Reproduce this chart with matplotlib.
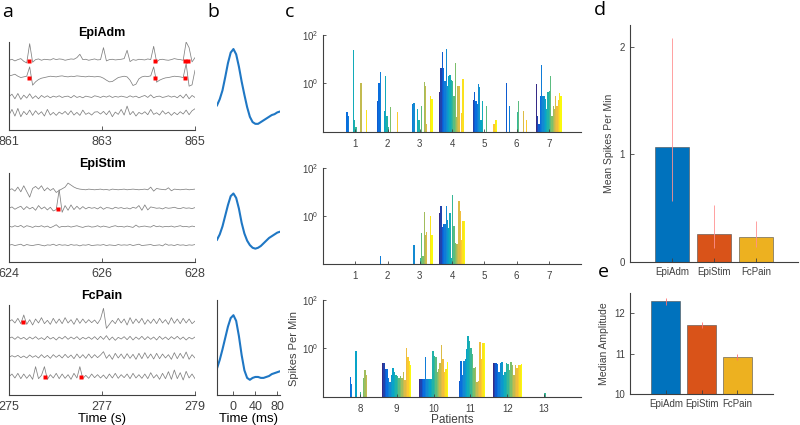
#!/usr/bin/env python
# -*- coding: utf-8 -*-

import numpy as np
import matplotlib
matplotlib.use('Agg')
import matplotlib.pyplot as plt
from matplotlib.colors import LinearSegmentedColormap

plt.rcParams['font.family'] = ['Liberation Sans', 'DejaVu Sans']

#------------------------------------------------------
# panel a: example traces (4 channels per condition, 64 samples over 4 s)
conditions = ['EpiAdm', 'EpiStim', 'FcPain']
trace_start = [861, 624, 275]
trace_base = [[210, 160, 100, 50], [215, 160, 105, 50], [220, 170, 115, 55]]

adm_traces = [
    [0, 3, -2, 2, 5, -3, -8, 50, -6, 2, 4, 0, 3, 2, 1, 5, 2, 4, 3, 0,
     2, 4, 3, 8, 18, 2, 3, 0, 2, 4, 1, 2, 38, -2, 2, 3, 1, 2, 3, 5,
     30, -4, 2, 0, 3, 2, 1, 4, 2, 42, -5, 2, 3, 1, 0, 2, 5, 3, 2, 0,
     55, 38, -5, 8],
    [3, 5, 8, 2, -2, 0, 2, 30, -25, -15, -8, -4, -2, 0, 2, 1, 0, 2, 3, 1,
     0, 2, 1, 3, 2, 1, 0, 2, 1, 0, 1, 0, -4, -10, -15, -14, -8, -2, 0, 2,
     0, -10, -26, -22, -6, 0, 2, 1, 3, 30, -16, -10, -6, -3, -2, 0, 2, 1, 0, -2,
     40, -28, -24, 20],
    [0, 8, -6, 10, -8, 5, -4, 9, -5, 3, -6, 4, -2, 3, -3, 2, -1, 3, -2, 1,
     2, -3, 4, -2, 1, -3, 2, 0, -2, 3, 1, -2, 2, -1, 3, -2, 1, -1, 2, 0,
     -2, 3, -1, 2, -3, 1, 4, -2, 6, -3, 1, 2, -2, 0, 3, -1, 2, -3, 5, -4,
     8, -6, 4, -2],
    [-5, 12, -8, 15, -10, 6, -4, 10, -6, 8, -3, 5, -8, 12, -5, 3, -6, 4, -2, 6,
     -4, 8, -5, 3, -6, 10, -3, 2, -5, 4, 5, -2, 6, -4, 8, -10, 4, -3, 12, -5,
     22, -4, 6, -8, 3, -2, 5, -4, 12, -3, 2, -5, 8, -2, 4, -6, 3, -4, 5, -2,
     10, -4, 8, 14],
]
stim_traces = [
    [0, 3, -4, 8, -6, 12, -5, -22, 4, 10, 2, 12, -3, 6, -2, 4, -8, -2, 3, 8,
     20, 14, 8, 4, 2, 1, 0, 2, 1, 0, 1, 2, 0, 1, -1, 2, 1, 0, 1, 2,
     0, 1, 2, 1, 0, 1, 2, 0, 8, -4, 4, 2, 1, 0, 6, -3, 2, 1, 0, 1,
     2, 0, 1, 2],
    [0, 4, -3, 2, 6, -4, 5, -2, 3, -6, 8, -2, 4, -5, 3, -8, -4, 55, -12, 8,
     -6, 10, -4, 6, -3, 5, -2, 3, 0, 2, -2, 4, -3, 2, 1, -2, 3, 0, 2, -1,
     1, -2, 3, 0, 8, -6, 10, -5, 4, 2, 0, 1, -2, 2, 0, 1, 3, 0, -1, 2,
     0, 1, -1, 2],
    [2, -1, 3, 0, 4, -2, 3, 1, -2, 2, 0, 3, -1, 2, -3, 1, 6, -2, 1, 0,
     2, -1, 1, 3, 0, -2, 1, 2, -1, 0, 3, -1, 2, 0, -2, 1, 3, 0, 1, -1,
     2, 0, -2, 5, -1, 1, 2, 0, -1, 4, 0, 2, -1, 1, 0, 2, -1, 1, 3, 0,
     1, -1, 2, 0],
    [0, 2, -1, 1, 3, -2, 2, 0, -1, 1, 2, 0, -2, 1, 0, 3, -1, 2, 0, 1,
     -1, 2, 0, 1, -2, 1, 0, 2, -1, 0, 1, 0, 2, -1, 1, 0, -1, 2, 0, 1,
     0, 2, -1, 1, 3, -1, 0, 1, 2, -1, 0, 1, -2, 4, 0, 1, -1, 2, 0, 1,
     -1, 1, 0, 2],
]
pain_traces = [
    [0, 6, -4, 10, -6, 20, -8, 6, -10, 8, -4, 12, -6, 4, -8, 10, -5, 8, -6, 12,
     -4, 6, -8, 10, -5, 8, -4, 6, -3, 5, -6, 8, 40, -20, -8, 4, -6, 10, -4, 8,
     -10, 12, -6, 8, -4, 10, -8, 6, -5, 8, -6, 10, -4, 6, -8, 12, -5, 8, -6, 10,
     -4, 8, -6, 2],
    [0, 4, -3, 5, -2, 3, -4, 4, -2, 5, -3, 2, -4, 6, -2, 3, -5, 4, -2, 6,
     -3, 4, -2, 5, -4, 3, -2, 4, -3, 5, -4, 6, -3, 8, -5, 4, -6, 3, -2, 5,
     -4, 6, -5, 4, -3, 6, -4, 5, -3, 4, -5, 6, -3, 4, -4, 5, -2, 6, -3, 4,
     -5, 3, -2, 4],
    [-2, 3, -1, 4, -3, 2, -4, 5, -2, 3, -4, 6, -3, 4, -5, 6, -2, 5, -4, 7,
     -3, 5, -6, 8, -4, 6, -5, 8, -4, 6, -3, 5, 15, -5, 6, -8, 10, -4, 8, -6,
     9, -5, 7, -8, 10, -6, 12, -5, 8, -7, 10, -6, 8, -4, 6, -8, 12, -6, 10, -5,
     14, -8, 6, -4],
    [0, 8, -4, 10, -6, 8, -5, 6, -8, 30, -6, 4, 30, -8, 6, -4, 10, -6, 8, -5,
     6, -8, 10, -4, 30, -6, 4, -5, 8, -3, 6, -4, 5, -6, 8, -4, 10, -5, 6, -3,
     8, -6, 10, -4, 6, -5, 8, -6, 12, -4, 6, -8, 10, -6, 15, -8, 20, -6, 12, -10,
     16, -4, 8, -6],
]
all_traces = [adm_traces, stim_traces, pain_traces]

# detected spikes: (channel, time)
adm_marks = [(0, 861.42), (0, 864.14), (0, 864.78), (0, 864.86),
             (1, 861.42), (1, 864.14), (1, 864.78)]
stim_marks = [(1, 625.06)]
pain_marks = [(0, 275.31), (3, 275.77), (3, 276.55)]
all_marks = [adm_marks, stim_marks, pain_marks]

# panel b: mean spike waveforms
wave_t = [-30, -25, -20, -15, -10, -5, 0, 5, 10, 15, 20, 25,
          30, 35, 40, 45, 50, 55, 60, 65, 70, 75, 80, 85]
wave_adm = [0.28, 0.35, 0.45, 0.6, 0.76, 0.88, 0.92, 0.86, 0.72, 0.55, 0.4, 0.26,
            0.15, 0.09, 0.07, 0.07, 0.09, 0.11, 0.13, 0.15, 0.17, 0.18, 0.2, 0.21]
wave_stim = [0.25, 0.31, 0.4, 0.52, 0.64, 0.74, 0.77, 0.72, 0.6, 0.44, 0.32, 0.24,
             0.19, 0.16, 0.15, 0.16, 0.18, 0.21, 0.24, 0.27, 0.29, 0.31, 0.33, 0.34]
wave_pain = [0.28, 0.37, 0.48, 0.6, 0.72, 0.81, 0.84, 0.78, 0.62, 0.42, 0.26, 0.18,
             0.16, 0.18, 0.19, 0.19, 0.18, 0.18, 0.19, 0.2, 0.22, 0.23, 0.24, 0.25]
waves = [wave_adm, wave_stim, wave_pain]

# panel c: spikes per minute, 20 channels per patient (nan = none)
n = np.nan
adm_rates = {
    1: [n, n, n, 0.065, 0.044, n, n, n, 23, 0.03, 0.015, n, n, n, 1.0, n, n, n, 0.08, n],
    2: [n, n, 0.19, 1.0, 3.0, n, n, 0.07, 2.0, 0.045, 0.015, n, 0.1, n, n, n, n, 0.065, n, n],
    3: [n, n, n, n, 0.135, 0.15, n, n, 0.085, 0.03, n, 0.11, n, 1.1, 0.75, 0.02, n, n, 0.3, 0.23],
    4: [0.42, 4.3, 20, 4.3, 1.2, 26, 0.75, 2.0, 2.3, 1.4, 1.2, 0.3, 7, 0.04, 0.75, 0.75, n, 0.06, 1.5, n],
    5: [n, 0.2, 0.42, 0.19, 0.14, 0.9, 0.68, 0.03, 0.19, n, n, 0.12, n, n, n, n, n, 0.02, 0.03, 0.03],
    6: [n, n, 1.0, n, 0.11, n, n, n, n, n, 0.065, 0.19, n, n, n, 0.07, n, 0.03, n, n],
    7: [0.9, 0.044, 0.02, 0.3, 5.5, 0.3, 0.3, 0.23, 0.085, 0.42, 0.5, 2.0, 0.045, 0.12, 0.085, 0.3, 0.12, 0.2, 0.38, 0.3],
}
stim_rates = {
    2: [n, n, n, n, 0.02, n, n, n, n, n, n, n, n, n, n, n, n, n, n, n],
    3: [n, n, n, n, n, 0.062, n, n, n, n, 0.017, 0.19, 0.02, 1.5, 0.17, 0.21, n, n, 1.0, 0.17],
    4: [1.4, 2.6, 0.35, 0.45, 0.45, 2.6, 0.7, 0.32, 1.4, 0.017, 7.5, 0.38, 0.075, 0.07, 0.07, 4.3, 1.6, 0.1, 0.6, 0.6],
}
pain_rates = {
    8: [n, n, n, 0.064, 0.034, n, n, 0.77, n, n, 0.014, n, 0.056, 0.13, 0.077, n, n, n, n, n],
    9: [0.24, 0.24, 0.14, 0.14, 0.06, 0.04, 0.075, 0.16, 0.1, 0.075, 0.07, 0.06, 0.07, 0.06, 0.1, 0.05, 1.0, 0.45, 0.3, 0.2],
    10: [0.055, 0.055, 0.055, 0.055, 0.45, 0.055, 0.055, 0.055, 0.055, 0.77, 0.5, 0.45, 0.1, 0.14, 0.25, 1.33, 0.35, 0.1, 0.14, 0.27],
    11: [n, n, 0.043, 0.3, 0.08, 0.3, 0.35, 0.9, 3.3, 2.0, 1.07, 0.56, 0.16, 0.17, 0.04, 0.045, 1.8, 0.35, 1.7, 1.7],
    12: [0.25, 0.25, 0.25, 0.22, 0.1, 0.25, 0.28, 0.075, 0.1, 0.24, 0.22, 0.13, 0.27, 0.2, 0.075, 0.2, 0.15, 0.2, 0.2, 0.22],
    13: [n, n, n, n, n, n, n, n, n, n, 0.013, n, n, n, n, n, n, n, n, n],
}
all_rates = [adm_rates, stim_rates, pain_rates]
patient_ticks = [[1, 2, 3, 4, 5, 6, 7], [1, 2, 3, 4, 5, 6, 7], [8, 9, 10, 11, 12, 13]]

# panels d, e
group_names = ['EpiAdm', 'EpiStim', 'FcPain']
mean_rate = [1.065, 0.254, 0.231]
mean_rate_lo = [0.5, 0.13, 0.092]
mean_rate_hi = [1.015, 0.271, 0.149]
med_amp = [12.29, 11.71, 10.92]
med_amp_err = [0.08, 0.08, 0.07]

group_colors = ['#0072BD', '#D95319', '#EDB120']
parula = LinearSegmentedColormap.from_list('parula', [
    (0.21, 0.17, 0.53), (0.02, 0.40, 0.88), (0.08, 0.53, 0.83),
    (0.03, 0.65, 0.78), (0.15, 0.71, 0.63), (0.47, 0.75, 0.43),
    (0.80, 0.73, 0.30), (0.99, 0.75, 0.22), (0.98, 0.98, 0.05)])

AX_COL = '0.25'


#------------------------------------------------------
def px_axes(fig, x0, y0, x1, y1):
    W, H = 800.0, 425.0
    return fig.add_axes([x0 / W, 1 - y1 / H, (x1 - x0) / W, (y1 - y0) / H])


def style_axes(ax, fs=8):
    for s in ['top', 'right']:
        ax.spines[s].set_visible(False)
    for s in ['left', 'bottom']:
        ax.spines[s].set_color(AX_COL)
        ax.spines[s].set_linewidth(0.8)
    ax.tick_params(direction='in', length=3, width=0.6, colors=AX_COL,
                   labelsize=fs, labelcolor=AX_COL)


fig = plt.figure(figsize=(8, 4.25), dpi=100)

# panel a
a_rows = [(42, 130, 265), (173, 262, 265), (305, 395, 270)]
for k, (y0, y1, top) in enumerate(a_rows):
    ax = px_axes(fig, 9, y0, 195, y1)
    t0 = trace_start[k]
    t = np.linspace(t0, t0 + 4, 64)
    for ch, vals in enumerate(all_traces[k]):
        ax.plot(t, trace_base[k][ch] + np.array(vals), color='0.5', lw=0.55)
    for ch, mt in all_marks[k]:
        ax.plot(mt, trace_base[k][ch] - 2, 's', color='red', ms=2.2, mec='none')
    ax.set_xlim(t0, t0 + 4)
    ax.set_ylim(0, top)
    ax.set_xticks([t0, t0 + 2, t0 + 4])
    ax.set_yticks([])
    style_axes(ax, fs=9)
    ax.tick_params(axis='x', pad=4)
    ax.set_title(conditions[k], fontsize=9, fontweight='bold', pad=4)
    if k == 2:
        ax.set_xlabel('Time (s)', fontsize=9.5, labelpad=0)

# panel b
b_rows = [(42, 130), (173, 262), (300, 395)]
for k, (y0, y1) in enumerate(b_rows):
    ax = px_axes(fig, 217, y0, 280, y1)
    ax.plot(wave_t, waves[k], color='#1f77c4', lw=1.5)
    ax.set_xlim(-30, 85)
    ax.set_ylim(0, 1)
    if k < 2:
        ax.axis('off')
    else:
        ax.set_xticks([0, 40, 80])
        ax.set_yticks([])
        style_axes(ax, fs=9)
        ax.tick_params(axis='x', pad=4)
        ax.set_xlabel('Time (ms)', fontsize=9.5, labelpad=0)

# panel c
c_rows = [(35, 131.7, (0, 8)), (168.3, 264, (0, 8)), (300, 396.7, (7, 14))]
bw = 0.8 / 20
for k, (y0, y1, xl) in enumerate(c_rows):
    ax = px_axes(fig, 323, y0, 581, y1)
    ax.set_yscale('log')
    for p, vals in all_rates[k].items():
        xs = p - 0.4 + (np.arange(len(vals)) + 0.5) * bw
        cols = parula(np.linspace(0, 1, len(vals)))
        ax.bar(xs, vals, width=bw, bottom=1e-3, color=cols, linewidth=0)
    ax.set_xlim(*xl)
    ax.set_ylim(1e-2, 1e2)
    ax.set_yticks([1, 100])
    ax.minorticks_off()
    ax.set_xticks(patient_ticks[k])
    style_axes(ax, fs=7)
    ax.tick_params(length=2)
    ax.tick_params(axis='x', pad=5)
    if k == 2:
        ax.set_ylabel('Spikes Per Min', fontsize=8, color=AX_COL, labelpad=2)
        ax.set_xlabel('Patients', fontsize=8.5, color=AX_COL, labelpad=0)

# panel d
ax = px_axes(fig, 630, 25, 798, 261.7)
xg = np.arange(1, 4)
ax.bar(xg, mean_rate, width=0.8, color=group_colors, edgecolor='0.3', linewidth=0.4)
ax.errorbar(xg, mean_rate, yerr=[mean_rate_lo, mean_rate_hi], fmt='none',
            ecolor='#ff9090', elinewidth=0.6, capsize=0)
ax.set_xlim(0, 4)
ax.set_ylim(0, 2.2)
ax.set_yticks([0, 1, 2])
ax.set_xticks(xg)
ax.set_xticklabels(group_names)
style_axes(ax, fs=7)
ax.set_ylabel('Mean Spikes Per Min', fontsize=7.5, color=AX_COL)

# panel e
ax = px_axes(fig, 630, 293, 773.3, 394)
ax.bar(xg, med_amp, width=0.8, color=group_colors, edgecolor='0.3', linewidth=0.4,
       bottom=0)
ax.errorbar(xg, med_amp, yerr=med_amp_err, fmt='none',
            ecolor='#ff7070', elinewidth=0.6, capsize=0)
ax.set_xlim(0, 4)
ax.set_ylim(10, 12.5)
ax.set_yticks([10, 11, 12])
ax.set_xticks(xg)
ax.set_xticklabels(group_names)
style_axes(ax, fs=7)
ax.set_ylabel('Median Amplitude', fontsize=7.5, color=AX_COL)

# panel letters
for lab, x, y in [('a', 8, 12), ('b', 213, 12), ('c', 290, 12),
                  ('d', 600, 10), ('e', 603, 272)]:
    fig.text(x / 800, 1 - y / 425, lab, fontsize=14, family='Open Sans',
             ha='center', va='center')

plt.savefig('out.png', dpi=100)
